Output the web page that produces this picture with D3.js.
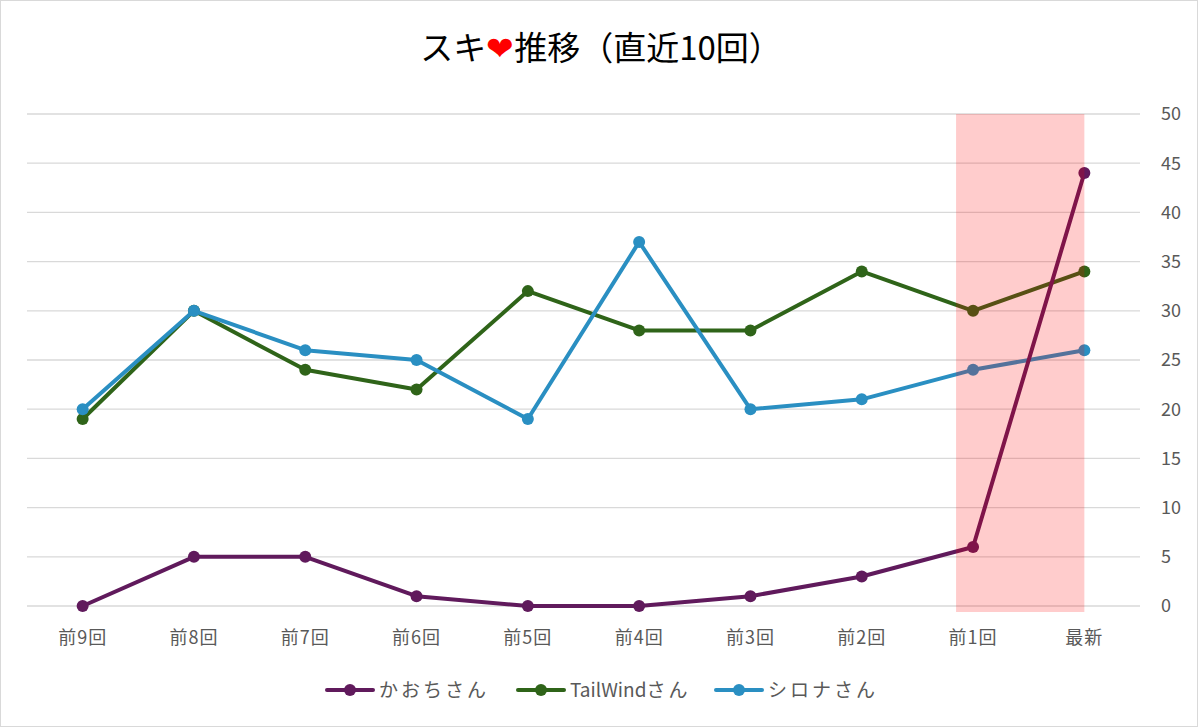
<!DOCTYPE html>
<html><head><meta charset="utf-8">
<script src="https://cdn.jsdelivr.net/npm/d3@7"></script>
<style>body{margin:0;background:#fff}svg{display:block}</style>
</head><body>
<svg id="c" width="1200" height="728"></svg>
<script>
const categories = ["前9回","前8回","前7回","前6回","前5回","前4回","前3回","前2回","前1回","最新"];
const seriesNames = ["かおちさん","TailWindさん","シロナさん"];
const kaochi = [0,5,5,1,0,0,1,3,6,44];
const tailwind = [19,30,24,22,32,28,28,34,30,34];
const shirona = [20,30,26,25,19,37,20,21,24,26];
const yTicks = [0,5,10,15,20,25,30,35,40,45,50];
const highlight = ["前1回","最新"];

const colors = {"かおちさん":"#601a5c","TailWindさん":"#2f6419","シロナさん":"#2a8fc2"};
const series = [
  {name:"かおちさん", values:kaochi},
  {name:"TailWindさん", values:tailwind},
  {name:"シロナさん", values:shirona}
];
const font = "'Noto Sans CJK JP','Noto Sans',sans-serif";
const svg = d3.select("#c");
svg.append("rect").attr("x",0.5).attr("y",0.5).attr("width",1197).attr("height",726)
  .attr("fill","#fff").attr("stroke","#d9d9d9");

const x = d3.scaleBand().domain(categories).range([27,1140]);
const xc = c => x(c) + x.bandwidth()/2;
const y = d3.scaleLinear().domain([0,50]).range([606,114]);

// grid
svg.append("g").selectAll("line").data(yTicks).join("line")
  .attr("x1",27).attr("x2",1140).attr("y1",d=>y(d)).attr("y2",d=>y(d))
  .attr("stroke","#d9d9d9").attr("stroke-width",1.3);

// y labels
svg.append("g").selectAll("text").data(yTicks).join("text")
  .attr("x",1161).attr("y",d=>y(d)).attr("dy","0.35em")
  .attr("font-family",font).attr("font-size",18).attr("fill","#595959").text(d=>d);

// x labels
svg.append("g").selectAll("text").data(categories).join("text")
  .attr("x",d=>xc(d)).attr("y",638).attr("dy","0.35em").attr("text-anchor","middle")
  .attr("font-family",font).attr("font-size",18).attr("letter-spacing",1).attr("fill","#595959").text(d=>d);

// lines
const line = d3.line().x((d,i)=>xc(categories[i])).y(d=>y(d));
const drawOrder = [series[1], series[2], series[0]];
drawOrder.forEach(s=>{
  const g = svg.append("g");
  g.append("path").datum(s.values).attr("d",line).attr("fill","none")
    .attr("stroke",colors[s.name]).attr("stroke-width",4).attr("stroke-linejoin","round");
  g.selectAll("circle").data(s.values).join("circle")
    .attr("cx",(d,i)=>xc(categories[i])).attr("cy",d=>y(d)).attr("r",6)
    .attr("fill",colors[s.name]);
});

// highlight overlay
const hx0 = xc(highlight[0]) - 17;
const hx1 = xc(highlight[1]);
svg.append("rect").attr("x",hx0).attr("y",y(50)).attr("width",hx1-hx0).attr("height",612-y(50))
  .attr("fill","#ff0000").attr("fill-opacity",0.2);

// title
const t = svg.append("text").attr("x",601).attr("y",48).attr("dy","0.35em").attr("text-anchor","middle")
  .attr("font-family",font).attr("font-size",33).attr("fill","#000");
t.append("tspan").text("スキ");
t.append("tspan").attr("fill","#ff0000").text("❤");
t.append("tspan").text("推移（直近10回）");

// legend
const legendX = [327, 518, 716];
const lg = svg.append("g");
series.forEach((s,i)=>{
  const lx = legendX[i];
  lg.append("line").attr("x1",lx).attr("x2",lx+46).attr("y1",690).attr("y2",690)
    .attr("stroke",colors[s.name]).attr("stroke-width",4).attr("stroke-linecap","round");
  lg.append("circle").attr("cx",lx+23).attr("cy",690).attr("r",6).attr("fill",colors[s.name]);
  const tx = lg.append("text").attr("x",lx+52).attr("y",690).attr("dy","0.35em")
    .attr("font-family",font).attr("font-size",19).attr("fill","#595959");
  const parts = s.name.match(/[A-Za-z]+|[^A-Za-z]+/g);
  parts.forEach(p=>{
    tx.append("tspan").attr("letter-spacing", /[A-Za-z]/.test(p) ? 0 : 3).text(p);
  });
});
</script>
</body></html>
